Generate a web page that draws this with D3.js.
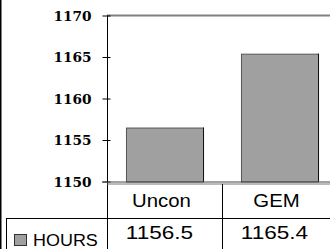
<!DOCTYPE html>
<html><head><meta charset="utf-8">
<script src="https://cdn.jsdelivr.net/npm/d3@7"></script>
<style>body{margin:0;background:#fff}svg{display:block}</style>
</head><body>
<script>
const categories = ["Uncon", "GEM"];
const hours = [1156.5, 1165.4];
const valueLabels = ["1156.5", "1165.4"];
const yTicks = [1150, 1155, 1160, 1165, 1170];
const seriesName = "HOURS";

const W = 330, H = 249;
const svg = d3.select("body").append("svg").attr("width", W).attr("height", H);

const x = d3.scaleBand().domain(categories).range([107, 337]).paddingInner(0.33).paddingOuter(0.165);
const y = d3.scaleLinear().domain([1150, 1170]).range([181.5, 15.5]);

// left frame line
svg.append("line").attr("x1", 0.5).attr("x2", 0.5).attr("y1", 0).attr("y2", H).attr("stroke", "#000").attr("stroke-width", 2);

// top gray line
svg.append("line").attr("x1", 107).attr("x2", W).attr("y1", y(1170)).attr("y2", y(1170)).attr("stroke", "#808080").attr("stroke-width", 2);

// bars
svg.selectAll("rect.bar").data(hours).join("rect")
  .attr("class", "bar")
  .attr("x", (d, i) => x(categories[i]) + 0.5)
  .attr("y", d => y(d) + 0.5)
  .attr("width", x.bandwidth())
  .attr("height", d => y(1150) - y(d))
  .attr("fill", "#a0a0a0").attr("stroke", "#555").attr("stroke-width", 1);
svg.selectAll("line.bedge").data(hours).join("line")
  .attr("class", "bedge")
  .attr("x1", (d, i) => x(categories[i]) + x.bandwidth() + 0.5)
  .attr("x2", (d, i) => x(categories[i]) + x.bandwidth() + 0.5)
  .attr("y1", d => y(d)).attr("y2", y(1150))
  .attr("stroke", "#111");

// y axis
const yAxis = d3.axisLeft(y).tickValues(yTicks).tickSize(0).tickFormat(d3.format("d"));
const ga = svg.append("g").attr("transform", "translate(107.5,0)").call(yAxis);
ga.select(".domain").remove();
ga.selectAll(".tick text").attr("x", -16).attr("dy", "0.36em").attr("text-anchor", "end")
  .attr("font-family", "DejaVu Serif, serif").attr("font-weight", "bold").attr("font-size", 13.7).attr("fill", "#000");
ga.selectAll(".tick").append("line").attr("x1", -5).attr("x2", 3).attr("stroke", "#000");
svg.append("line").attr("x1", 107.5).attr("x2", 107.5).attr("y1", y(1170)).attr("y2", H).attr("stroke", "#000");

// x axis lines
svg.append("line").attr("x1", 102).attr("x2", W).attr("y1", 182).attr("y2", 182).attr("stroke", "#444");
svg.append("line").attr("x1", 107).attr("x2", W).attr("y1", 184).attr("y2", 184).attr("stroke", "#777");

// data table
svg.append("line").attr("x1", 222.5).attr("x2", 222.5).attr("y1", 184).attr("y2", H).attr("stroke", "#000");
svg.append("line").attr("x1", 6).attr("x2", W).attr("y1", 218.5).attr("y2", 218.5).attr("stroke", "#000");
svg.append("line").attr("x1", 6.5).attr("x2", 6.5).attr("y1", 218).attr("y2", H).attr("stroke", "#000");

svg.selectAll("text.cat").data(categories).join("text")
  .attr("class", "cat")
  .attr("transform", d => `translate(${x(d) + x.bandwidth() / 2 - 3},207) scale(1.1,1)`)
  .attr("text-anchor", "middle")
  .attr("font-family", "Liberation Sans, Arial, sans-serif").attr("font-size", 18.5)
  .text(d => d);

svg.selectAll("text.val").data(valueLabels).join("text")
  .attr("class", "val")
  .attr("transform", (d, i) => `translate(${x(categories[i]) + x.bandwidth() / 2 - 5},239) scale(1.22,1)`)
  .attr("text-anchor", "middle")
  .attr("font-family", "Liberation Sans, Arial, sans-serif").attr("font-size", 18.5)
  .text(d => d);

// legend key
svg.append("rect").attr("x", 14.5).attr("y", 234.5).attr("width", 12).attr("height", 11)
  .attr("fill", "#a0a0a0").attr("stroke", "#333");
svg.append("text").attr("transform", "translate(33,246) scale(1.07,1)")
  .attr("font-family", "Liberation Sans, Arial, sans-serif").attr("font-size", 16.8)
  .text(seriesName);
</script>
</body></html>
